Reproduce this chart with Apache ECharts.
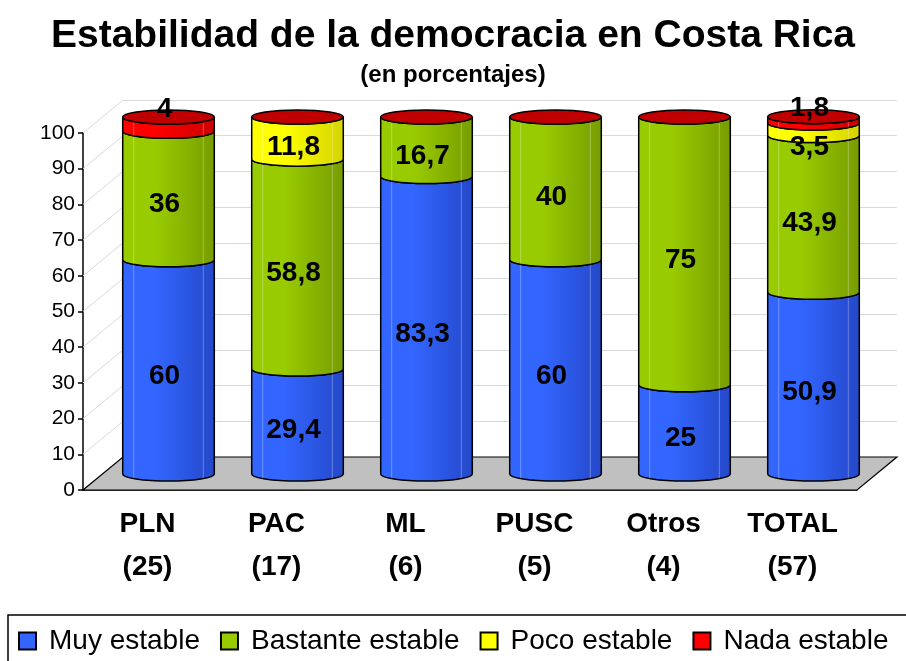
<!DOCTYPE html>
<html>
<head>
<meta charset="utf-8">
<script src="https://cdn.jsdelivr.net/npm/echarts@6/dist/echarts.min.js"></script>
<style>
  html, body { margin: 0; padding: 0; background: #fff; }
  #main { width: 906px; height: 661px; }
</style>
</head>
<body>
<div id="main"></div>
<script>
// datos
var partidos = ['PLN', 'PAC', 'ML', 'PUSC', 'Otros', 'TOTAL'];
var casos = [25, 17, 6, 5, 4, 57];
var muyEstable = [60, 29.4, 83.3, 60, 25, 50.9];
var bastanteEstable = [36, 58.8, 16.7, 40, 75, 43.9];
var pocoEstable = [0, 11.8, 0, 0, 0, 3.5];
var nadaEstable = [4, 0, 0, 0, 0, 1.8];
var yTicks = [0, 10, 20, 30, 40, 50, 60, 70, 80, 90, 100];

var nombres = ['Muy estable', 'Bastante estable', 'Poco estable', 'Nada estable'];
var colores = ['#3366FF', '#99CC00', '#FFFF00', '#FF0000'];
var oscuros = ['#2448C8', '#779C00', '#D4D400', '#CC0000'];
var FONT = '"Liberation Sans", Arial, sans-serif';

// profundidad 3D
var DX = 21, DY = -16;
var WX = 40, WY = -33;

function fmt(v) {
  return String(v).replace('.', ',');
}

// apilar
var valores = [muyEstable, bastanteEstable, pocoEstable, nadaEstable];
var acum = partidos.map(function () { return 0; });
var datos = valores.map(function (serie) {
  return serie.map(function (v, i) {
    var s = acum[i];
    acum[i] = s + v;
    return [i, s, s + v, v];
  });
});

function cilindro(k) {
  return function (params, api) {
    var idx = api.value(0), s = api.value(1), e = api.value(2), v = api.value(3);
    var pb = api.coord([idx, s]);
    var pt = api.coord([idx, e]);
    var cx = pb[0] + DX;
    var yb = pb[1] + DY;
    var yt = pt[1] + DY;
    var r = api.size([1, 0])[0] * 0.355;
    var ry = 7;
    var children = [];
    var grad = new echarts.graphic.LinearGradient(0, 0, 1, 0, [
      { offset: 0, color: colores[k] },
      { offset: 0.35, color: colores[k] },
      { offset: 1, color: oscuros[k] }
    ]);
    if (e > s) {
      var d = 'M' + (cx - r) + ' ' + yt +
        ' L' + (cx - r) + ' ' + yb +
        ' A' + r + ' ' + ry + ' 0 0 0 ' + (cx + r) + ' ' + yb +
        ' L' + (cx + r) + ' ' + yt +
        ' A' + r + ' ' + ry + ' 0 0 1 ' + (cx - r) + ' ' + yt + ' Z';
      children.push({
        type: 'path',
        shape: { pathData: d },
        style: { fill: grad, stroke: '#000', lineWidth: 1.5 }
      });
      // brillos verticales
      [0.12, 0.88].forEach(function (f) {
        var x = cx - r + 2 * r * f;
        children.push({
          type: 'line',
          shape: { x1: x, y1: yt + ry * 0.8, x2: x, y2: yb + ry * 0.6 },
          style: { stroke: 'rgba(255,255,255,0.3)', lineWidth: 1 }
        });
      });
    }
    if (k === valores.length - 1) {
      var c = 'M' + (cx - r) + ' ' + yt +
        ' A' + r + ' ' + ry + ' 0 1 1 ' + (cx + r) + ' ' + yt +
        ' A' + r + ' ' + ry + ' 0 1 1 ' + (cx - r) + ' ' + yt + ' Z';
      children.push({
        type: 'path',
        shape: { pathData: c },
        style: { fill: '#C00000', stroke: '#000', lineWidth: 1.5 }
      });
    }
    if (v > 0) {
      var ly = api.coord([idx, (s + e) / 2])[1] + DY + 9;
      if (v < 5) {
        ly = e >= 99.9 ? yt - 8 : yb + 12;
      }
      children.push({
        type: 'text',
        style: {
          text: fmt(v),
          x: cx - 4,
          y: ly,
          align: 'center',
          verticalAlign: 'middle',
          fontSize: 28,
          fontWeight: 'bold',
          fontFamily: FONT,
          fill: '#000'
        }
      });
    }
    return { type: 'group', children: children };
  };
}

var series = [
  {
    type: 'custom',
    xAxisIndex: 0, yAxisIndex: 0,
    z: 1,
    silent: true,
    data: yTicks.map(function (t) { return [0, t]; }),
    renderItem: function (params, api) {
      var x0 = params.coordSys.x;
      var y = api.coord([0, api.value(1)])[1];
      return {
        type: 'line',
        shape: { x1: x0, y1: y, x2: x0 + WX, y2: y + WY },
        style: { stroke: '#D9D9D9', lineWidth: 1 }
      };
    }
  },
  {
    type: 'custom',
    xAxisIndex: 0, yAxisIndex: 0,
    z: 2,
    silent: true,
    data: [[0, 0]],
    renderItem: function (params, api) {
      var cs = params.coordSys;
      var y = cs.y + cs.height;
      return {
        type: 'polygon',
        shape: {
          points: [
            [cs.x, y], [cs.x + cs.width, y],
            [cs.x + cs.width + WX, y + WY], [cs.x + WX, y + WY]
          ]
        },
        style: { fill: '#C0C0C0', stroke: '#000', lineWidth: 1.2 }
      };
    }
  }
];

valores.forEach(function (serie, k) {
  series.push({
    name: nombres[k],
    type: 'custom',
    xAxisIndex: 0, yAxisIndex: 0,
    z: 3,
    itemStyle: { color: colores[k], borderColor: '#000', borderWidth: 1 },
    data: datos[k],
    renderItem: cilindro(k)
  });
});

var myChart = echarts.init(document.getElementById('main'), null, { renderer: 'canvas' });
myChart.setOption({
  animation: false,
  backgroundColor: '#fff',
  title: [
    {
      text: 'Estabilidad de la democracia en Costa Rica',
      left: 'center',
      top: 12,
      textStyle: { fontSize: 39, fontWeight: 'bold', fontFamily: FONT, color: '#000' }
    },
    {
      text: '(en porcentajes)',
      left: 'center',
      top: 58,
      textStyle: { fontSize: 24, fontWeight: 'bold', fontFamily: FONT, color: '#000' }
    }
  ],
  legend: {
    data: nombres,
    left: 8,
    top: 615,
    width: 980,
    padding: [12, 80, 14, 10],
    itemGap: 20,
    itemWidth: 17,
    itemHeight: 17,
    icon: 'rect',
    borderColor: '#000',
    borderWidth: 1.5,
    textStyle: { fontSize: 28, fontFamily: FONT, color: '#000', padding: [0, 0, 0, 8] }
  },
  grid: [
    { left: 83, right: 49, top: 133, bottom: 171 },
    { left: 83 + WX, right: 49 - WX, top: 133 + WY, bottom: 171 - WY }
  ],
  xAxis: [
    {
      type: 'category',
      gridIndex: 0,
      data: partidos,
      axisLine: { lineStyle: { color: '#000', width: 1.5 } },
      axisTick: { length: 7, lineStyle: { color: '#000', width: 1.5 } },
      axisLabel: {
        margin: 13,
        fontSize: 28,
        fontWeight: 'bold',
        fontFamily: FONT,
        color: '#000',
        lineHeight: 43,
        formatter: function (v, i) { return v + '\n(' + casos[i] + ')'; }
      }
    },
    { type: 'category', gridIndex: 1, data: partidos, show: false }
  ],
  yAxis: [
    {
      type: 'value',
      gridIndex: 0,
      min: 0,
      max: 100,
      interval: 10,
      axisLine: { show: true, lineStyle: { color: '#000', width: 1.5 } },
      axisTick: { show: true, length: 5, lineStyle: { color: '#000', width: 1.5 } },
      axisLabel: { fontSize: 21, fontFamily: FONT, color: '#000', margin: 8 },
      splitLine: { show: false }
    },
    {
      type: 'value',
      gridIndex: 1,
      min: 0,
      max: 100,
      interval: 10,
      axisLine: { show: false },
      axisTick: { show: false },
      axisLabel: { show: false },
      splitLine: { show: true, lineStyle: { color: '#D9D9D9', width: 1 } }
    }
  ],
  series: series
});
</script>
</body>
</html>
